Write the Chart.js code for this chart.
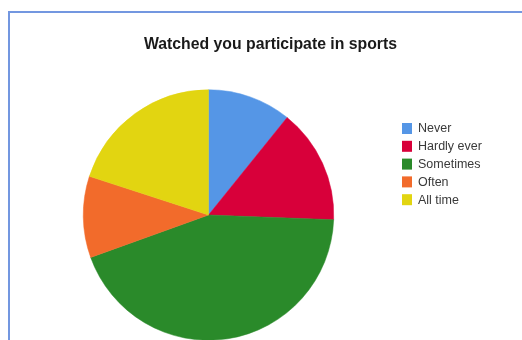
<!DOCTYPE html>
<html>
<head>
<meta charset="utf-8">
<script src="https://cdn.jsdelivr.net/npm/chart.js@4/dist/chart.umd.min.js"></script>
<style>
  html, body { margin: 0; padding: 0; background: #fff; overflow: hidden; width: 522px; height: 340px; }
  #frame { position: absolute; left: 8px; top: 11px; width: 600px; height: 400px;
           border-left: 2px solid #7397e0; border-top: 2px solid #7397e0; }
  #wrap { position: absolute; left: 0; top: 0; width: 522px; height: 360px; }
</style>
</head>
<body>
<div id="frame"></div>
<div id="wrap"><canvas id="c"></canvas></div>
<script>
const titleText = "Watched you participate in sports";
const categories = ["Never", "Hardly ever", "Sometimes", "Often", "All time"];
const values = [10.8, 14.8, 43.9, 10.5, 20.0];
const colors = ["#5596e6", "#d8003a", "#2a8a2a", "#f26b2b", "#e2d511"];

const overlay = {
  id: "overlay",
  afterDraw(chart) {
    const ctx = chart.ctx;
    ctx.save();
    ctx.fillStyle = "#1a1a1a";
    ctx.font = "bold 15.8px 'Liberation Sans', Arial, sans-serif";
    ctx.textAlign = "center";
    ctx.textBaseline = "middle";
    ctx.fillText(titleText, 270.5, 45);
    ctx.font = "12.5px 'Liberation Sans', Arial, sans-serif";
    ctx.textAlign = "left";
    const labels = chart.data.labels;
    const bg = chart.data.datasets[0].backgroundColor;
    labels.forEach((lab, i) => {
      const y = 128.5 + i * 17.8;
      ctx.fillStyle = bg[i];
      ctx.fillRect(402, y - 5.5, 10, 11);
      ctx.fillStyle = "#3a3a3a";
      ctx.fillText(lab, 418, y + 0.5);
    });
    ctx.restore();
  }
};

new Chart(document.getElementById("c"), {
  type: "pie",
  data: {
    labels: categories,
    datasets: [{
      data: values,
      backgroundColor: colors,
      borderColor: colors,
      borderWidth: 0.5
    }]
  },
  options: {
    responsive: true,
    maintainAspectRatio: false,
    animation: false,
    layout: { padding: { left: 83, right: 188, top: 89.5, bottom: 19.5 } },
    plugins: {
      legend: { display: false },
      title: { display: false },
      tooltip: { enabled: false }
    }
  },
  plugins: [overlay]
});
</script>
</body>
</html>
